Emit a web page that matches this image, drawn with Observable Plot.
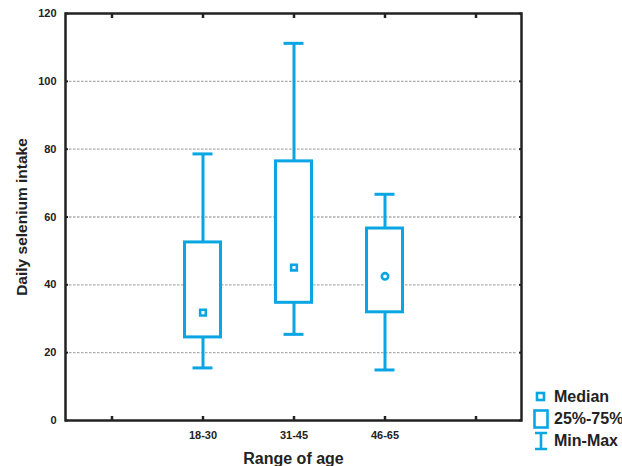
<!DOCTYPE html>
<html>
<head>
<meta charset="utf-8">
<script src="https://cdn.jsdelivr.net/npm/d3@7"></script>
<script src="https://cdn.jsdelivr.net/npm/@observablehq/plot@0.6"></script>
<style>
  html, body { margin: 0; padding: 0; background: #fff; }
  #wrap { position: relative; width: 622px; height: 466px; font-family: "Liberation Sans", Arial, sans-serif; }
  #legend { position: absolute; left: 532px; top: 386px; font-weight: bold; font-size: 16px; color: #222; white-space: nowrap; }
  #legend .row { display: flex; align-items: center; height: 22px; }
  #legend svg { width: 18px; height: 22px; margin-right: 4px; flex: none; }
</style>
</head>
<body>
<div id="wrap"></div>
<script>
// Data
const ageGroups = ["18-30", "31-45", "46-65"];
const minVals    = [15.5, 25.4, 14.9];
const q1Vals     = [24.5, 34.7, 31.9];
const medianVals = [31.8, 45.1, 42.5];
const q3Vals     = [52.5, 76.4, 56.6];
const maxVals    = [78.6, 111.2, 66.7];
const medianShape = ["square", "square", "circle"];
const yTicks = [0, 20, 40, 60, 80, 100, 120];
const gridVals = [20, 40, 60, 80, 100];
const legendLabels = ["Median", "25%-75%", "Min-Max"];

const blue = "#0aa6e4";
const dark = "#222";

const rows = ageGroups.map((age, i) => ({
  age, min: minVals[i], q1: q1Vals[i], median: medianVals[i],
  q3: q3Vals[i], max: maxVals[i], shape: medianShape[i]
}));
const xDomain = ["pad0", ...ageGroups, "pad1"];
const fmtX = d => ageGroups.includes(d) ? d : "";

const chart = Plot.plot({
  width: 622,
  height: 466,
  marginLeft: 65,
  marginRight: 101,
  marginTop: 13,
  marginBottom: 46,
  style: { fontFamily: "'Liberation Sans', Arial, sans-serif", background: "white" },
  x: { type: "band", domain: xDomain, padding: 0 },
  y: { domain: [0, 120] },
  marks: [
    Plot.ruleY(gridVals, { stroke: "#aaaaaa", strokeWidth: 1.3, strokeDasharray: "2.5,1.5", insetLeft: 4, insetRight: 4 }),
    // whiskers
    Plot.ruleX(rows, { x: "age", y1: "min", y2: "max", stroke: blue, strokeWidth: 3 }),
    Plot.tickY(rows, { x: "age", y: "min", stroke: blue, strokeWidth: 3, insetLeft: 35.5, insetRight: 35.5 }),
    Plot.tickY(rows, { x: "age", y: "max", stroke: blue, strokeWidth: 3, insetLeft: 35.5, insetRight: 35.5 }),
    // boxes
    Plot.barY(rows, { x: "age", y1: "q1", y2: "q3", fill: "white", stroke: blue, strokeWidth: 3, insetLeft: 27.5, insetRight: 27.5 }),
    // medians
    Plot.dot(rows.filter(d => d.shape === "square"), { x: "age", y: "median", symbol: "square", r: 3.2, fill: "white", stroke: blue, strokeWidth: 2.6 }),
    Plot.dot(rows.filter(d => d.shape === "circle"), { x: "age", y: "median", symbol: "circle", r: 3.2, fill: "white", stroke: blue, strokeWidth: 2.6 }),
    // axes
    Plot.axisY({ anchor: "left", ticks: yTicks, tickSize: 0, tickPadding: 9, fontWeight: "bold", fontSize: 11, color: dark,
      label: "Daily selenium intake", labelAnchor: "center", labelArrow: "none", labelOffset: 50 }),
    Plot.axisY({ anchor: "left", ticks: yTicks, tickSize: -3, tickFormat: () => "", strokeWidth: 2, label: null, color: dark }),
    Plot.axisY({ anchor: "right", ticks: yTicks, tickSize: -3, tickFormat: () => "", strokeWidth: 2, label: null, color: dark }),
    Plot.axisX({ anchor: "bottom", tickSize: 0, tickPadding: 11, tickFormat: fmtX, fontWeight: "bold", fontSize: 11, color: dark,
      label: "Range of age", labelAnchor: "center", labelArrow: "none", labelOffset: 43 }),
    Plot.axisX({ anchor: "bottom", tickSize: -4, tickFormat: () => "", strokeWidth: 2.5, label: null, color: dark }),
    Plot.axisX({ anchor: "top", tickSize: -4, tickFormat: () => "", strokeWidth: 2.5, label: null, color: dark }),
    Plot.frame({ stroke: dark, strokeWidth: 2.5 })
  ]
});

// style axis labels bigger
const setLabel = (sel, size) => chart.querySelectorAll(sel).forEach(t => {
  t.setAttribute("font-size", size);
  t.setAttribute("font-weight", "bold");
  t.style.fontSize = size + "px";
  t.style.fontWeight = "bold";
});
setLabel("g[aria-label='y-axis label'] text", 15.5);
setLabel("g[aria-label='x-axis label'] text", 16);

const wrap = document.getElementById("wrap");
wrap.appendChild(chart);

// legend
const icons = [
  `<svg viewBox="0 0 18 22"><rect x="5" y="7" width="7" height="7" fill="white" stroke="${blue}" stroke-width="2.6"/></svg>`,
  `<svg viewBox="0 0 18 22"><rect x="2.5" y="2.5" width="13" height="17" fill="white" stroke="${blue}" stroke-width="2.6"/></svg>`,
  `<svg viewBox="0 0 18 22"><path d="M3,3H15M9,3V19M3,19H15" fill="none" stroke="${blue}" stroke-width="2.6"/></svg>`
];
const legend = document.createElement("div");
legend.id = "legend";
legend.innerHTML = legendLabels.map((l, i) => `<div class="row">${icons[i]}<span>${l}</span></div>`).join("");
wrap.appendChild(legend);
</script>
</body>
</html>
